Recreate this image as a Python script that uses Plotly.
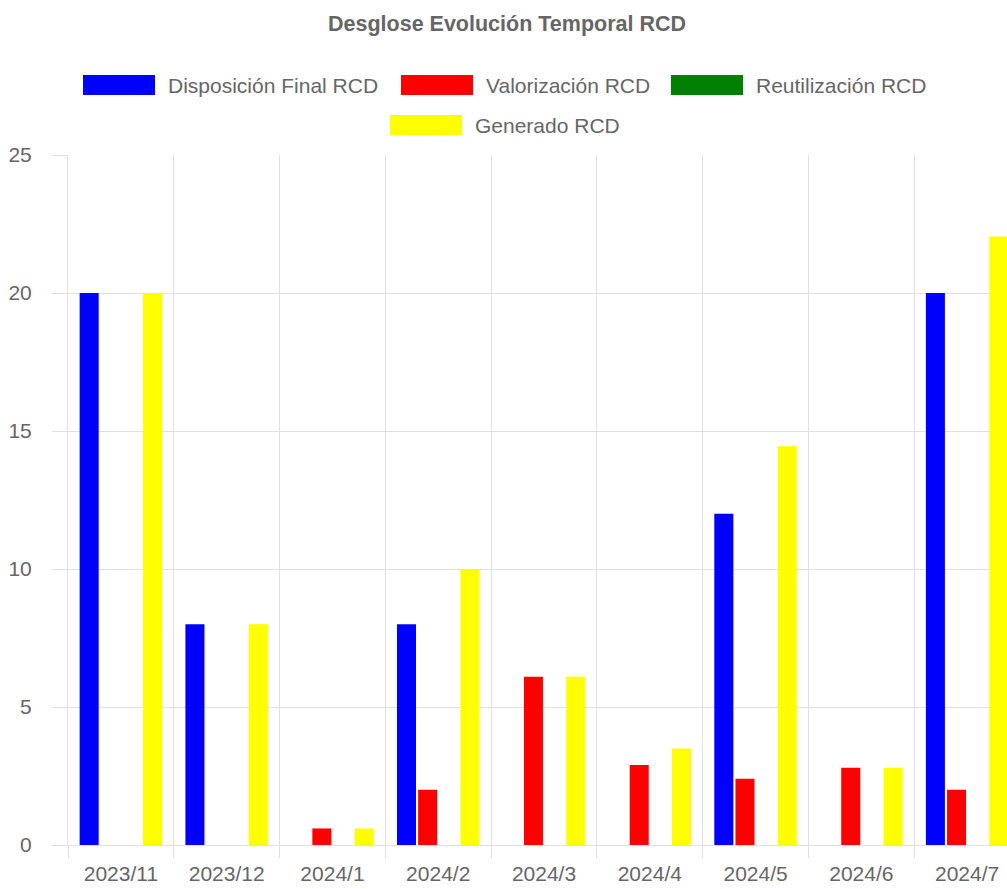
import plotly.graph_objects as go

# Monthly breakdown of construction & demolition waste (RCD)
meses = ["2023/11", "2023/12", "2024/1", "2024/2", "2024/3",
         "2024/4", "2024/5", "2024/6", "2024/7"]
disposicion_final = [20, 8, 0, 8, 0, 0, 12, 0, 20]
valorizacion = [0, 0, 0.6, 2.0, 6.1, 2.9, 2.4, 2.8, 2.0]
reutilizacion = [0, 0, 0, 0, 0, 0, 0, 0, 0]
generado = [20, 8, 0.6, 10, 6.1, 3.5, 14.45, 2.8, 22.05]

series = [
    ("Disposición Final RCD", disposicion_final, "#0000ff"),
    ("Valorización RCD", valorizacion, "#ff0000"),
    ("Reutilización RCD", reutilizacion, "#008000"),
    ("Generado RCD", generado, "#ffff00"),
]

FONT = "Liberation Sans, Arial, sans-serif"
GREY = "#666666"
GRID = "#e0e0e0"

W, H = 1007, 889
L, T, B = 68, 155, 44
PW, PH = W - L, H - T - B

fig = go.Figure()
for name, vals, color in series:
    fig.add_trace(go.Bar(
        x=meses, y=vals, name=name, marker_color=color,
        marker_line_width=0, showlegend=False,
    ))


def px_x(x):
    return (x - L) / PW


def px_y(y):
    return (H - B - y) / PH


# Legend drawn as boxes + labels, Chart.js style
legend_items = [
    ("Disposición Final RCD", "#0000ff", 83, 85),
    ("Valorización RCD", "#ff0000", 401, 85),
    ("Reutilización RCD", "#008000", 671, 85),
    ("Generado RCD", "#ffff00", 390, 125),
]
shapes = []
annotations = []
for label, color, bx, cy in legend_items:
    shapes.append(dict(
        type="rect", xref="paper", yref="paper",
        x0=px_x(bx), x1=px_x(bx + 72), y0=px_y(cy + 10), y1=px_y(cy - 10),
        fillcolor=color, line=dict(width=0),
    ))
    annotations.append(dict(
        text=label, xref="paper", yref="paper",
        x=px_x(bx + 83), y=px_y(cy), xanchor="left", yanchor="middle",
        showarrow=False, font=dict(family=FONT, size=21, color=GREY),
    ))

annotations.append(dict(
    text="<b>Desglose Evolución Temporal RCD</b>", xref="paper", yref="paper",
    x=px_x(507), y=px_y(24), xanchor="center", yanchor="middle",
    showarrow=False, font=dict(family=FONT, size=21.5, color=GREY),
))

fig.update_layout(
    width=W, height=H,
    margin=dict(l=L, r=0, t=T, b=B, pad=0),
    paper_bgcolor="white", plot_bgcolor="white",
    barmode="group", bargap=0.2, bargroupgap=0.1,
    shapes=shapes, annotations=annotations,
    font=dict(family=FONT, size=21, color=GREY),
)
fig.update_xaxes(
    type="category", range=[-0.5, 8.377],
    tickson="boundaries", ticks="outside", ticklen=12, tickcolor=GRID,
    ticklabelstandoff=14,
    showgrid=True, gridcolor=GRID, gridwidth=1,
    showline=False, tickfont=dict(family=FONT, size=21, color=GREY),
)
fig.update_yaxes(
    range=[0, 25], dtick=5, ticks="outside", ticklen=15, tickcolor=GRID,
    ticklabelstandoff=16,
    showgrid=True, gridcolor=GRID, gridwidth=1, zeroline=True,
    zerolinecolor=GRID, zerolinewidth=1,
    showline=True, linecolor=GRID, linewidth=1,
    tickfont=dict(family=FONT, size=21, color=GREY),
)

fig.write_html("out.html")
